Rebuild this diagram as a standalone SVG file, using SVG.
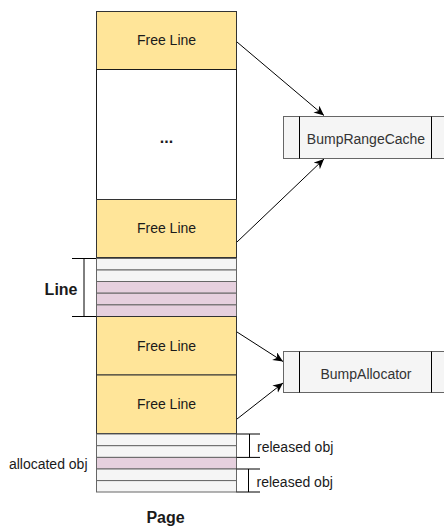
<svg xmlns="http://www.w3.org/2000/svg" width="444" height="527" viewBox="0 0 444 527">
  <style>
    .t { font-family: "Liberation Sans", Arial, sans-serif; font-size: 14px; fill: #1a1a1a; }
    .b { font-family: "Liberation Sans", Arial, sans-serif; font-size: 16px; font-weight: bold; fill: #1a1a1a; }
    .free { fill: #ffe599; stroke: #333333; stroke-width: 1; }
    .blank { fill: #ffffff; stroke: #1a1a1a; stroke-width: 1; }
    .gray { fill: #f5f5f5; stroke: #666666; stroke-width: 1; }
    .pink { fill: #e6d0de; stroke: #666666; stroke-width: 1; }
    .proc { fill: #f5f5f5; stroke: #666666; stroke-width: 1; }
    .bracket { stroke: #000000; stroke-width: 1; fill: none; }
    .edge { stroke: #000000; stroke-width: 1; fill: none; marker-end: url(#arrow); }
  </style>
  <defs>
    <marker id="arrow" markerUnits="userSpaceOnUse" markerWidth="12" markerHeight="10" refX="10" refY="4.5" orient="auto">
      <path d="M0,0 L10,4.5 L0,9 L3,4.5 Z" fill="#000000"/>
    </marker>
  </defs>

  <!-- page column -->
  <g id="free-line-1">
    <rect class="free" x="96.5" y="11.5" width="140" height="58"/>
    <text class="t" x="166.5" y="45" text-anchor="middle">Free Line</text>
  </g>
  <g id="ellipsis">
    <rect class="blank" x="96.5" y="69.5" width="140" height="130"/>
    <text class="b" x="166.5" y="143" text-anchor="middle" font-size="14">...</text>
  </g>
  <g id="free-line-2">
    <rect class="free" x="96.5" y="199.5" width="140" height="58"/>
    <text class="t" x="166.5" y="233" text-anchor="middle">Free Line</text>
  </g>
  <g id="line-rows">
    <rect class="gray" x="96.5" y="258.5" width="140" height="11.5"/>
    <rect class="gray" x="96.5" y="270" width="140" height="11.5"/>
    <rect class="pink" x="96.5" y="281.5" width="140" height="11.7"/>
    <rect class="pink" x="96.5" y="293.2" width="140" height="11.7"/>
    <rect class="pink" x="96.5" y="304.9" width="140" height="11.6"/>
  </g>
  <g id="free-line-3">
    <rect class="free" x="96.5" y="316.5" width="140" height="58.5"/>
    <text class="t" x="166.5" y="350.5" text-anchor="middle">Free Line</text>
  </g>
  <g id="free-line-4">
    <rect class="free" x="96.5" y="375" width="140" height="58.5"/>
    <text class="t" x="166.5" y="409" text-anchor="middle">Free Line</text>
  </g>
  <g id="object-rows">
    <rect class="gray" x="96.5" y="434" width="140" height="11.7"/>
    <rect class="gray" x="96.5" y="445.7" width="140" height="11.7"/>
    <rect class="pink" x="96.5" y="457.4" width="140" height="11.6"/>
    <rect class="gray" x="96.5" y="469" width="140" height="11.6"/>
    <rect class="gray" x="96.5" y="480.6" width="140" height="11.4"/>
  </g>

  <!-- labels and brackets -->
  <g id="line-label">
    <path class="bracket" d="M72,258.5 H96 M84,258.5 V316.5 M72,316.5 H96"/>
    <text class="b" x="77.5" y="295" text-anchor="end">Line</text>
  </g>
  <g id="released-1">
    <path class="bracket" d="M236.5,434 H260 M249.5,434 V457.4 M236.5,457.4 H260"/>
    <text class="t" x="257" y="451.5">released obj</text>
  </g>
  <g id="released-2">
    <path class="bracket" d="M236.5,469 H260 M248.5,469 V492 M236.5,492 H260"/>
    <text class="t" x="256.5" y="486.5">released obj</text>
  </g>
  <g id="allocated-label">
    <text class="t" x="87.5" y="469" text-anchor="end">allocated obj</text>
  </g>
  <g id="page-label">
    <text class="b" x="165.5" y="523" text-anchor="middle">Page</text>
  </g>

  <!-- process boxes -->
  <g id="bump-range-cache">
    <rect class="proc" x="283.5" y="116.5" width="164" height="42"/>
    <path class="bracket" d="M299.5,116.5 V158.5 M431.5,116.5 V158.5" stroke="#666666"/>
    <text class="t" x="366" y="144" text-anchor="middle" style="fill:#333333">BumpRangeCache</text>
  </g>
  <g id="bump-allocator">
    <rect class="proc" x="283.5" y="351.5" width="164" height="41"/>
    <path class="bracket" d="M299.5,351.5 V392.5 M431.5,351.5 V392.5" stroke="#666666"/>
    <text class="t" x="366" y="378.5" text-anchor="middle" style="fill:#333333">BumpAllocator</text>
  </g>

  <!-- connectors -->
  <g id="connectors">
    <line class="edge" x1="237" y1="42" x2="324" y2="115.5"/>
    <line class="edge" x1="237" y1="242" x2="324" y2="159"/>
    <line class="edge" x1="237" y1="332" x2="283" y2="361.5"/>
    <line class="edge" x1="237" y1="419" x2="283" y2="383"/>
  </g>
</svg>
